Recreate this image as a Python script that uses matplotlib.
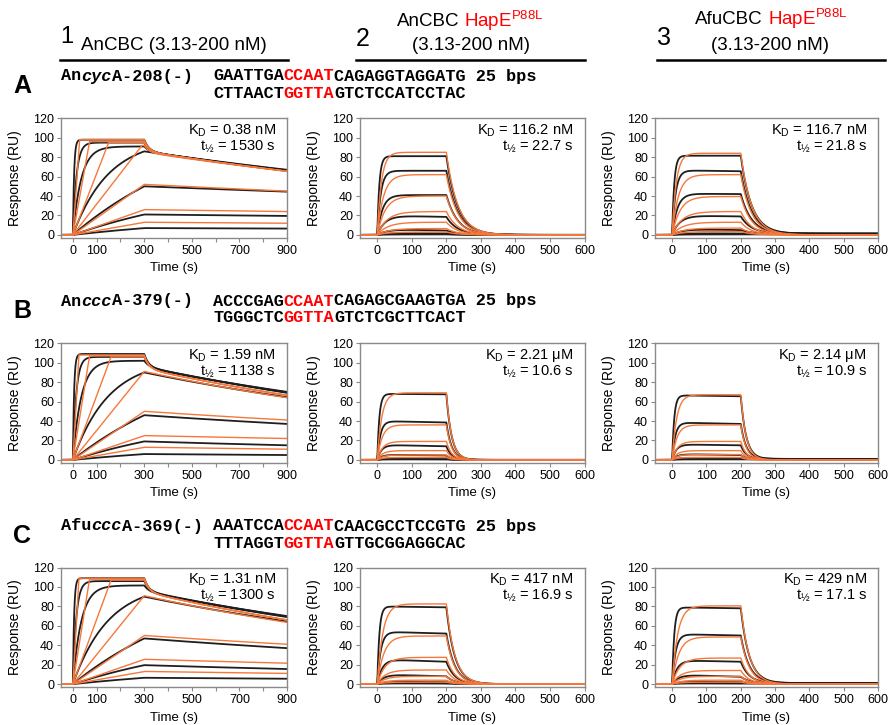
import numpy as np
import matplotlib.pyplot as plt
from matplotlib.lines import Line2D

plt.rcParams['font.family'] = ['Liberation Sans', 'DejaVu Sans']
plt.rcParams['mathtext.fontset'] = 'custom'
plt.rcParams['mathtext.rm'] = 'Liberation Sans'

BLACK = '#1e1e1e'
ORANGE = '#f7773b'

# ---- panel labels ----
kd_labels = [['0.38 nM', '116.2 nM', '116.7 nM'],
             ['1.59 nM', '2.21 \u03bcM', '2.14 \u03bcM'],
             ['1.31 nM', '417 nM', '429 nM']]
thalf = [[1530, 22.7, 21.8],
         [1138, 10.6, 10.9],
         [1300, 16.9, 17.1]]

row_letters = ['A', 'B', 'C']
gene_pre = ['An', 'An', 'Afu']
gene_ital = ['cyc', 'ccc', 'ccc']
gene_post = ['A-208(-)', 'A-379(-)', 'A-369(-)']
seq_top = [('GAATTGA', 'CCAAT', 'CAGAGGTAGGATG 25 bps'),
           ('ACCCGAG', 'CCAAT', 'CAGAGCGAAGTGA 25 bps'),
           ('AAATCCA', 'CCAAT', 'CAACGCCTCCGTG 25 bps')]
seq_bot = [('CTTAACT', 'GGTTA', 'GTCTCCATCCTAC'),
           ('TGGGCTC', 'GGTTA', 'GTCTCGCTTCACT'),
           ('TTTAGGT', 'GGTTA', 'GTTGCGGAGGCAC')]

# ---- column 1 (AnCBC): association 0-300 s, dissociation to 900 s ----
# black = measured, orange = fit; values in RU read off the sensorgrams
A1_blk_end = [98, 95, 91, 86, 50, 21, 7]
A1_blk_tau = [5, 15, 35, 150, 600, 700, 900]
A1_blk_last = [67, 66.5, 66, 66, 44.5, 19.5, 6.5]
A1_blk_drop = [12, 9, 5, 0, 0, 0, 0]
A1_org_end = [98, 96, 95, 92, 52, 26, 13]
A1_org_ramp = [28, 70, 150, 290, 300, 300, 300]
A1_org_last = [65.5, 65.5, 65.5, 65.5, 45, 24, 12]
A1_org_drop = [12, 10, 9, 7, 0, 0, 0]

B1_blk_end = [109, 106, 102, 90, 46, 19, 6]
B1_blk_tau = [5, 14, 35, 150, 600, 700, 900]
B1_blk_last = [70, 69.5, 69, 64.5, 37, 15, 5]
B1_blk_drop = [14, 10, 6, 0, 0, 0, 0]
B1_org_end = [108, 107, 106, 91, 50, 25, 13]
B1_org_ramp = [25, 70, 160, 300, 300, 300, 300]
B1_org_last = [66.5, 66.5, 66.5, 64, 41, 22, 11]
B1_org_drop = [14, 13, 12, 0, 0, 0, 0]

C1_blk_end = [109, 106, 101.5, 90, 47, 19.5, 6.5]
C1_blk_tau = [5, 14, 35, 150, 600, 700, 900]
C1_blk_last = [70, 69.5, 69, 64.5, 37, 15.5, 5.5]
C1_blk_drop = [14, 10, 6, 0, 0, 0, 0]
C1_org_end = [109, 108, 107, 91, 50, 25.5, 13]
C1_org_ramp = [25, 70, 160, 300, 300, 300, 300]
C1_org_last = [66, 66, 66, 63.5, 41, 21.5, 11]
C1_org_drop = [14, 13, 12, 0, 0, 0, 0]

# ---- columns 2/3 (HapE P88L): association 0-200 s, dissociation to 600 s ----
A2_blk_peak = [81, 66, 41, 20, 6, 2, 0.5]
A2_blk_end = [81, 66, 41, 18.5, 4.5, 1.5, 0.5]
A2_blk_tau = [6, 10, 15, 22, 28, 30, 30]
A2_org_end = [85, 62, 40, 24, 13, 6.5, 3]
A2_org_tau = [12, 18, 23, 28, 30, 32, 33]

A3_blk_peak = [81.5, 66.5, 42.5, 20, 6, 1.7, 0.5]
A3_blk_end = [81.5, 65.5, 42, 19, 5, 1.5, 0.5]
A3_blk_tau = [6, 10, 15, 22, 28, 30, 30]
A3_org_end = [84, 62, 39.5, 24, 13, 7, 3.5]
A3_org_tau = [12, 18, 23, 28, 30, 32, 33]

B2_blk_peak = [68, 40, 15.5, 5.5, 1.5, 0.5]
B2_blk_end = [67.5, 38.5, 14, 4.5, 1.2, 0.5]
B2_blk_tau = [6, 9, 12, 14, 15, 15]
B2_org_end = [69, 36, 19, 9.5, 5, 2.5]
B2_org_tau = [13, 14, 15, 15, 15, 15]

B3_blk_peak = [66.5, 38.5, 16, 6, 2, 0.5]
B3_blk_end = [65.5, 37, 15, 5, 1.5, 0.5]
B3_blk_tau = [6, 9, 12, 14, 15, 15]
B3_org_end = [67, 36, 19, 9.5, 5.5, 2.5]
B3_org_tau = [13, 14, 15, 15, 15, 15]

C2_blk_peak = [80, 54, 25.5, 10, 2.5, 0.8]
C2_blk_end = [79, 52, 23, 8, 2, 0.5]
C2_blk_tau = [6, 10, 14, 18, 22, 24]
C2_org_end = [82.5, 49.5, 27.5, 14.5, 8, 4, 2]
C2_org_tau = [16, 19, 22, 23, 24, 24, 24]

C3_blk_peak = [79, 51.5, 24.5, 9.7, 2.5, 0.8]
C3_blk_end = [78, 50, 23, 7.5, 2, 0.5]
C3_blk_tau = [6, 10, 14, 18, 22, 24]
C3_org_end = [80.5, 48.5, 26.8, 14, 8, 4, 2]
C3_org_tau = [16, 19, 22, 23, 24, 24, 24]

slow_sets = [
    (A1_blk_end, A1_blk_tau, A1_blk_last, A1_blk_drop, A1_org_end, A1_org_ramp, A1_org_last, A1_org_drop),
    (B1_blk_end, B1_blk_tau, B1_blk_last, B1_blk_drop, B1_org_end, B1_org_ramp, B1_org_last, B1_org_drop),
    (C1_blk_end, C1_blk_tau, C1_blk_last, C1_blk_drop, C1_org_end, C1_org_ramp, C1_org_last, C1_org_drop),
]
fast_sets = [
    [(A2_blk_peak, A2_blk_end, A2_blk_tau, A2_org_end, A2_org_tau, 0.0),
     (A3_blk_peak, A3_blk_end, A3_blk_tau, A3_org_end, A3_org_tau, 1.2)],
    [(B2_blk_peak, B2_blk_end, B2_blk_tau, B2_org_end, B2_org_tau, 0.0),
     (B3_blk_peak, B3_blk_end, B3_blk_tau, B3_org_end, B3_org_tau, 1.0)],
    [(C2_blk_peak, C2_blk_end, C2_blk_tau, C2_org_end, C2_org_tau, 0.0),
     (C3_blk_peak, C3_blk_end, C3_blk_tau, C3_org_end, C3_org_tau, 1.0)],
]

W, H = 890, 725
fig = plt.figure(figsize=(W / 100, H / 100), dpi=100)


def fx(x):
    return x / W


def fy(y):
    return 1 - y / H


def slow_panel(ax, blk_end, blk_tau, blk_last, blk_drop, org_end, org_ramp, org_last, org_drop):
    t = np.linspace(-50, 900, 1600)
    T, tmax = 300, 900
    dt = np.clip(t - T, 0, None)
    for r, tau, last, drop in zip(blk_end, blk_tau, blk_last, blk_drop):
        assoc = r * (1 - np.exp(-np.clip(t, 0, None) / tau)) / (1 - np.exp(-T / tau))
        k = np.log((r - drop) / last) / (tmax - T)
        diss = (r - drop) * np.exp(-k * dt) + drop * np.exp(-dt / 20)
        ax.plot(t, np.where(t < T, assoc, diss), color=BLACK, lw=1.3)
    for r, ramp, last, drop in zip(org_end, org_ramp, org_last, org_drop):
        assoc = r * np.clip(t / ramp, 0, 1)
        k = np.log((r - drop) / last) / (tmax - T)
        diss = (r - drop) * np.exp(-k * dt) + drop * np.exp(-dt / 20)
        ax.plot(t, np.where(t < T, assoc, diss), color=ORANGE, lw=1.0)
    ax.set_xlim(-50, 900)
    ax.set_xticks(np.arange(0, 901, 100))
    ax.set_xticklabels(['0', '100', '', '300', '', '500', '', '700', '', '900'])


def fast_panel(ax, th, blk_peak, blk_end, blk_tau, org_end, org_tau, base):
    t = np.linspace(-50, 600, 1600)
    T = 200
    dt = np.clip(t - T, 0, None)
    k = np.log(2) / th
    tp = np.clip(t, 0, None)
    for p, e, tau in zip(blk_peak, blk_end, blk_tau):
        assoc = p * (1 - np.exp(-tp / tau)) + (e - p) * tp / T
        b = min(base, e)
        diss = b + (e - b) * np.exp(-k * dt)
        ax.plot(t, np.where(t < T, assoc, diss), color=BLACK, lw=1.3)
    for r, tau in zip(org_end, org_tau):
        assoc = r * (1 - np.exp(-tp / tau)) / (1 - np.exp(-T / tau))
        diss = r * np.exp(-k * dt)
        ax.plot(t, np.where(t < T, assoc, diss), color=ORANGE, lw=1.0)
    ax.set_xlim(-50, 600)
    ax.set_xticks(np.arange(0, 601, 100))


col_left = [61, 360, 655]
col_right = [287, 584.5, 878]
row_top = [118.3, 343.3, 567.5]
ax_h = 119.5

for i in range(3):
    for j in range(3):
        ax = fig.add_axes([fx(col_left[j]), fy(row_top[i] + ax_h),
                           fx(col_right[j] - col_left[j]), ax_h / H])
        if j == 0:
            slow_panel(ax, *slow_sets[i])
        else:
            fast_panel(ax, thalf[i][j], *fast_sets[i][j - 1])
        ax.set_ylim(-3, 120)
        ax.set_yticks(np.arange(0, 121, 20))
        for s in ax.spines.values():
            s.set_color('#8a8a8a')
            s.set_linewidth(1.0)
        ax.tick_params(direction='out', length=3, width=0.8, color='#8a8a8a',
                       labelsize=9, pad=2)
        ax.set_ylabel('Response (RU)', fontsize=10, labelpad=8)
        ax.set_xlabel('Time (s)', fontsize=9.5, labelpad=4)
        ax.text(0.95, 0.90, 'K$_\\mathregular{D}$ = ' + kd_labels[i][j],
                transform=ax.transAxes, ha='right', va='center', fontsize=10.5)
        ax.text(0.95, 0.765, 't$_\\mathregular{\u00bd}$ = %g s' % thalf[i][j],
                transform=ax.transAxes, ha='right', va='center', fontsize=10.5)

renderer = fig.canvas.get_renderer()


def rich_line(xc, y, parts, size, gap=5):
    # parts: list of (text, color); centered at xc (pixels)
    objs = [fig.text(0, fy(y), s, color=c, fontsize=size, va='center') for s, c in parts]
    widths = [o.get_window_extent(renderer).width for o in objs]
    total = sum(widths) + gap * (len(objs) - 1)
    x = xc - total / 2
    for o, w in zip(objs, widths):
        o.set_x(fx(x))
        x += w + gap


# ---- column headers ----
hsize = 13.5
fig.text(fx(60), fy(37), '1', fontsize=17, va='center')
fig.text(fx(81), fy(45), 'AnCBC (3.13-200 nM)', fontsize=hsize, va='center')
fig.text(fx(356), fy(39), '2', fontsize=18, va='center')
rich_line(470, 21, [('AnCBC', 'black'), ('HapE$^{\\mathregular{P88L}}$', 'red')], hsize)
fig.text(fx(471), fy(45), '(3.13-200 nM)', fontsize=hsize, va='center', ha='center')
fig.text(fx(657), fy(38), '3', fontsize=18, va='center')
rich_line(771, 19, [('AfuCBC', 'black'), ('HapE$^{\\mathregular{P88L}}$', 'red')], hsize)
fig.text(fx(770), fy(45), '(3.13-200 nM)', fontsize=hsize, va='center', ha='center')
for x0, x1 in [(60, 288), (356, 585), (657, 885)]:
    fig.add_artist(Line2D([fx(x0), fx(x1)], [fy(60), fy(60)], transform=fig.transFigure,
                          color='black', lw=1.8))

# ---- row letters, gene names and sequences ----
mono = 'Liberation Mono'
msize = 12.2
probe = fig.text(0, 0, 'M' * 20, family=mono, fontsize=msize, weight='bold')
cw = probe.get_window_extent(renderer).width / 20
probe.remove()


def mono_parts(x, y, parts):
    n = 0
    for s, c, st in parts:
        fig.text(fx(x + n * cw), fy(y), s, family=mono, fontsize=msize, weight='bold',
                 style=st, color=c, va='center')
        n += len(s)


for i in range(3):
    dy = 225 * i
    fig.text(fx(22), fy(86 + dy), row_letters[i], fontsize=18, weight='bold',
             ha='center', va='center')
    mono_parts(61, 76 + dy, [(gene_pre[i], 'black', 'normal'), (gene_ital[i], 'black', 'italic'),
                             (gene_post[i], 'black', 'normal')])
    a, b, c = seq_top[i]
    mono_parts(213, 76 + dy, [(a, 'black', 'normal'), (b, 'red', 'normal'), (c, 'black', 'normal')])
    a, b, c = seq_bot[i]
    mono_parts(213, 93 + dy, [(a, 'black', 'normal'), (b, 'red', 'normal'), (c, 'black', 'normal')])

fig.savefig('out.png', dpi=100)
